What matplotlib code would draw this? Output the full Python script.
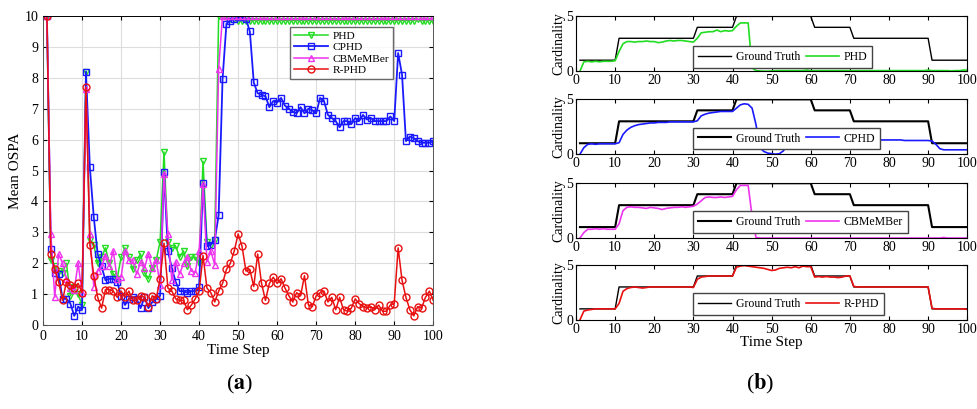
import matplotlib
matplotlib.use('Agg')
import matplotlib.pyplot as plt
import numpy as np

plt.rcParams['font.family'] = ['Liberation Serif', 'DejaVu Serif']
plt.rcParams['mathtext.fontset'] = 'stix'

t = np.arange(1, 101)

# ---- (a) mean OSPA ----
ospa_phd = [10, 2.1, 1.9, 1.75, 1.7, 2.0, 0.95, 1.25, 1.0, 0.65,
            8.2, 2.75, 2.6, 2.0, 2.2, 2.5, 2.0, 1.65, 1.5, 2.2,
            2.5, 2.2, 1.8, 2.1, 2.3, 1.7, 1.5, 1.85, 2.1, 2.7,
            5.6, 2.7, 2.5, 2.55, 2.2, 2.4, 1.9, 2.2, 2.2, 2.0,
            5.3, 2.7, 2.6, 2.75, 10.0, 10.0, 9.95, 9.9, 9.9, 9.85,
            9.85, 9.85, 9.85, 9.85, 9.85, 9.85, 9.85, 9.85, 9.85, 9.85,
            9.85, 9.85, 9.85, 9.85, 9.85, 9.85, 9.85, 9.85, 9.85, 9.85,
            9.85, 9.85, 9.85, 9.85, 9.85, 9.85, 9.85, 9.85, 9.85, 9.85,
            9.85, 9.85, 9.85, 9.85, 9.85, 9.85, 9.85, 9.85, 9.85, 9.85,
            9.85, 9.85, 9.85, 9.85, 9.85, 9.9, 9.85, 9.85, 9.85, 9.85]
ospa_cphd = [10, 2.45, 1.7, 1.65, 0.85, 0.85, 0.7, 0.3, 0.6, 0.5,
             8.2, 5.1, 3.5, 2.3, 1.9, 1.45, 1.5, 1.5, 1.4, 0.95,
             0.65, 0.85, 0.9, 0.85, 0.55, 0.9, 0.55, 0.75, 0.85, 0.95,
             4.95, 2.4, 1.85, 1.4, 1.1, 1.1, 1.05, 1.1, 1.1, 1.25,
             4.6, 2.55, 2.6, 2.75, 3.55, 7.95, 9.75, 9.85, 9.9, 9.95,
             9.95, 9.9, 9.5, 7.85, 7.5, 7.45, 7.4, 7.05, 7.25, 7.2,
             7.35, 7.1, 7.0, 6.9, 6.85, 7.05, 6.85, 7.0, 6.95, 6.85,
             7.35, 7.25, 6.8, 6.7, 6.6, 6.4, 6.6, 6.6, 6.5, 6.7,
             6.6, 6.8, 6.65, 6.7, 6.6, 6.6, 6.6, 6.6, 6.75, 6.6,
             8.8, 8.1, 5.95, 6.1, 6.05, 5.95, 5.9, 5.9, 5.9, 5.95]
ospa_cbmember = [10, 2.95, 0.9, 2.3, 2.0, 1.5, 1.2, 1.15, 2.0, 1.05,
                 7.65, 2.95, 1.25, 1.75, 1.9, 2.25, 1.9, 2.4, 1.5, 1.55,
                 2.4, 2.1, 2.1, 1.65, 2.05, 1.85, 2.3, 1.85, 2.1, 1.3,
                 4.9, 2.95, 1.45, 2.05, 1.65, 2.0, 2.2, 1.75, 1.7, 2.4,
                 4.55, 2.05, 2.4, 1.95, 8.3, 10, 10, 10, 10, 10,
                 10, 10, 10, 10, 10, 10, 10, 10, 10, 10,
                 10, 10, 10, 10, 10, 10, 10, 10, 10, 10,
                 10, 10, 10, 10, 10, 10, 10, 10, 10, 10,
                 10, 10, 10, 10, 10, 10, 10, 10, 10, 10,
                 10, 10, 10, 10, 10, 10, 10, 10, 10, 10]
ospa_rphd = [10, 2.3, 1.8, 1.4, 0.8, 1.4, 1.3, 1.2, 1.35, 1.05,
             7.7, 2.6, 1.6, 0.9, 0.55, 1.15, 1.15, 1.1, 0.9, 1.1,
             0.9, 1.1, 0.8, 0.8, 0.95, 0.9, 0.6, 0.95, 0.85, 1.5,
             2.65, 1.2, 1.1, 0.85, 0.8, 0.8, 0.5, 0.65, 0.85, 1.1,
             2.25, 1.2, 1.05, 0.75, 1.1, 1.35, 1.8, 2.0, 2.4, 2.95,
             2.55, 1.75, 1.8, 1.25, 2.3, 1.35, 0.8, 1.35, 1.55, 1.35,
             1.5, 1.2, 0.95, 0.75, 1.05, 0.95, 1.6, 0.65, 0.6, 0.95,
             1.05, 1.1, 0.75, 0.9, 0.5, 0.9, 0.5, 0.45, 0.55, 0.85,
             0.7, 0.6, 0.55, 0.6, 0.5, 0.65, 0.45, 0.45, 0.65, 0.7,
             2.5, 1.45, 0.9, 0.5, 0.3, 0.6, 0.55, 0.9, 1.1, 0.8]

# ---- (b) cardinality ----
card_truth = [1] * 10 + [3] * 20 + [4] * 10 + [5] * 20 + [4] * 10 + [3] * 20 + [1] * 10
card_phd = [0, 0.85, 0.9, 0.85, 0.9, 0.85, 0.9, 0.9, 0.9, 0.95,
            1.8, 2.5, 2.7, 2.7, 2.65, 2.7, 2.7, 2.75, 2.7, 2.7,
            2.6, 2.65, 2.75, 2.8, 2.75, 2.8, 2.8, 2.75, 2.7, 2.65,
            3.0, 3.5, 3.55, 3.6, 3.6, 3.75, 3.6, 3.7, 3.65, 3.7,
            4.1, 4.4, 4.4, 4.4, 0.3, 0.05, 0.02, 0.0, 0.0, 0.02,
            0.05, 0.05, 0.05, 0.05, 0.05, 0.05, 0.05, 0.05, 0.1, 0.05,
            0.05, 0.05, 0.05, 0.05, 0.05, 0.05, 0.05, 0.05, 0.05, 0.05,
            0.05, 0.05, 0.05, 0.05, 0.05, 0.05, 0.05, 0.05, 0.05, 0.05,
            0.05, 0.05, 0.05, 0.05, 0.05, 0.05, 0.05, 0.05, 0.05, 0.1,
            0.05, 0.05, 0.05, 0.05, 0.05, 0.02, 0.05, 0.05, 0.1, 0.1]
card_cphd = [0, 0.6, 0.9, 0.95, 0.9, 0.95, 0.95, 0.95, 0.95, 0.95,
             1.05, 1.8, 2.2, 2.45, 2.6, 2.7, 2.75, 2.8, 2.85, 2.85,
             2.9, 2.9, 2.9, 2.95, 2.95, 2.95, 2.95, 2.95, 2.95, 2.95,
             3.05, 3.5, 3.65, 3.75, 3.8, 3.85, 3.9, 3.9, 3.9, 3.9,
             4.2, 4.5, 4.6, 4.55, 4.2, 2.7, 0.6, 0.25, 0.1, 0.05,
             0.0, 0.05, 0.3, 0.9, 1.5, 2.0, 2.05, 2.0, 1.9, 1.6,
             1.4, 1.35, 1.3, 1.3, 1.3, 1.35, 1.3, 1.3, 1.3, 1.3,
             1.3, 1.3, 1.3, 1.3, 1.3, 1.3, 1.3, 1.3, 1.3, 1.3,
             1.3, 1.3, 1.3, 1.25, 1.25, 1.25, 1.25, 1.25, 1.25, 1.25,
             1.2, 0.9, 0.5, 0.4, 0.4, 0.4, 0.4, 0.4, 0.4, 0.4]
card_cbmember = [0, 0.5, 0.8, 0.8, 0.85, 0.8, 0.85, 0.8, 0.8, 0.8,
                 1.3, 2.5, 2.8, 2.85, 2.8, 2.8, 2.75, 2.7, 2.8, 2.75,
                 2.7, 2.6, 2.7, 2.75, 2.8, 2.8, 2.85, 2.8, 2.85, 2.9,
                 3.1, 3.4, 3.7, 3.75, 3.7, 3.7, 3.75, 3.7, 3.75, 3.8,
                 4.4, 4.8, 4.8, 4.8, 2.0, 0.05, 0.0, 0.0, 0.0, 0.0,
                 0.0, 0.0, 0.0, 0.0, 0.0, 0.0, 0.0, 0.0, 0.0, 0.0,
                 0.0, 0.0, 0.0, 0.0, 0.0, 0.0, 0.0, 0.0, 0.0, 0.0,
                 0.0, 0.0, 0.0, 0.0, 0.0, 0.0, 0.0, 0.0, 0.0, 0.0,
                 0.0, 0.0, 0.0, 0.0, 0.0, 0.0, 0.0, 0.0, 0.0, 0.0,
                 0.0, 0.0, 0.0, 0.05, 0.0, 0.0, 0.0, 0.0, 0.0, 0.0]
card_rphd = [0, 0.8, 0.9, 0.95, 1.0, 1.0, 1.0, 1.0, 1.0, 1.0,
             1.5, 2.6, 2.85, 2.95, 3.0, 2.95, 2.9, 2.95, 3.0, 3.0,
             3.0, 3.0, 3.0, 3.0, 3.0, 3.0, 3.0, 3.0, 3.0, 2.95,
             3.7, 3.9, 3.95, 4.0, 4.0, 4.0, 4.0, 4.0, 4.0, 4.0,
             4.8, 4.9, 4.95, 4.9, 4.85, 4.8, 4.75, 4.7, 4.6, 4.5,
             4.55, 4.7, 4.75, 4.8, 4.75, 4.85, 4.75, 4.9, 4.85, 4.85,
             3.9, 3.95, 3.9, 3.95, 3.9, 3.9, 3.85, 3.9, 4.0, 4.0,
             3.05, 3.0, 3.0, 3.0, 3.0, 3.0, 3.0, 3.0, 3.0, 3.0,
             3.0, 3.0, 3.0, 3.0, 3.0, 3.0, 3.0, 3.0, 3.0, 3.0,
             1.05, 1.0, 1.0, 1.0, 1.0, 1.0, 1.0, 1.0, 1.0, 0.95]

fig = plt.figure(figsize=(9.78, 4.09), dpi=100)

ax = fig.add_axes([0.044, 0.205, 0.399, 0.756])
ax.plot(t, ospa_phd, '-v', color='#22dd22', mfc='none', ms=5, lw=1.1, label='PHD')
ax.plot(t, ospa_cphd, '-s', color='#1a1aff', mfc='none', ms=4.5, lw=1.3, label='CPHD')
ax.plot(t, ospa_cbmember, '-^', color='#ee33ee', mfc='none', ms=5, lw=1.1, label='CBMeMBer')
ax.plot(t, ospa_rphd, '-o', color='#e81010', mfc='none', ms=5, lw=1.1, label='R-PHD')
ax.set_xlim(0, 100)
ax.set_ylim(0, 10)
ax.set_xticks(np.arange(0, 101, 10))
ax.set_yticks(np.arange(0, 11, 1))
ax.grid(color='#dddddd', lw=0.8)
ax.tick_params(direction='in', top=True, right=True, labelsize=10, length=3)
for s in ax.spines.values():
    s.set_color('#555555')
    s.set_linewidth(0.7)
ax.spines['top'].set_color('black')
ax.set_xlabel('Time Step', fontsize=11, labelpad=1)
ax.set_ylabel('Mean OSPA', fontsize=11, labelpad=2)
ax.legend(loc='upper left', bbox_to_anchor=(0.633, 0.964), fontsize=8.2,
          frameon=True, fancybox=False, edgecolor='#444444', handlelength=3,
          borderpad=0.35, labelspacing=0.12, handletextpad=0.4, borderaxespad=0)

# right panels
pan_y = [0.826, 0.623, 0.418, 0.218]
pan_est = [card_phd, card_cphd, card_cbmember, card_rphd]
pan_lab = ['PHD', 'CPHD', 'CBMeMBer', 'R-PHD']
pan_col = ['#22dd22', '#1a1aff', '#ee33ee', '#e81010']
pan_truth_lw = [1.0, 1.5, 1.5, 1.0]
pan_leg = [(0.30, 0.06), (0.30, 0.09), (0.30, 0.10), (0.30, 0.09)]
for i in range(4):
    a = fig.add_axes([0.589, pan_y[i], 0.400, 0.134])
    a.plot(t, card_truth, color='black', lw=pan_truth_lw[i], label='Ground Truth')
    a.plot(t, pan_est[i], color=pan_col[i], lw=1.2, label=pan_lab[i])
    a.set_xlim(0, 100)
    a.set_ylim(0, 5)
    a.set_xticks(np.arange(0, 101, 10))
    a.set_yticks([0, 5])
    a.tick_params(direction='in', top=True, right=True, labelsize=10, length=3, pad=2)
    a.set_ylabel('Cardinality', fontsize=10, labelpad=1)
    a.legend(loc='lower left', bbox_to_anchor=pan_leg[i], ncol=2,
             fontsize=8.5, frameon=True, fancybox=False, edgecolor='#444444',
             handlelength=2.8, borderpad=0.4, handletextpad=0.4, borderaxespad=0,
             columnspacing=0.5, framealpha=1)
    if i == 3:
        a.set_xlabel('Time Step', fontsize=11, labelpad=0)

fig.text(0.245, 0.06, r'($\mathbf{a}$)', ha='center', va='center', fontsize=16)
fig.text(0.777, 0.06, r'($\mathbf{b}$)', ha='center', va='center', fontsize=16)

fig.savefig('out.png', dpi=100)
